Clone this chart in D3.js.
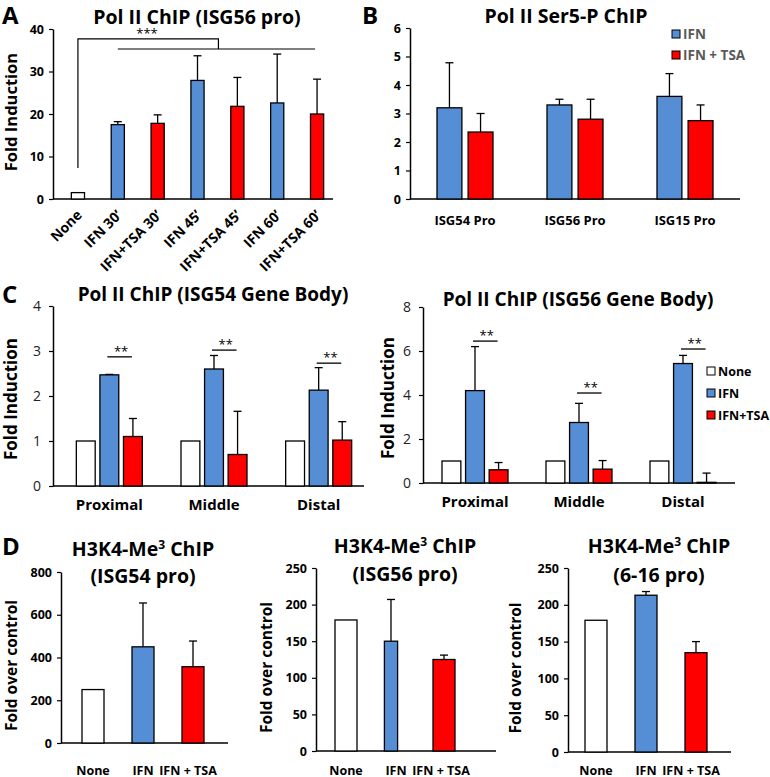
<!DOCTYPE html>
<html>
<head>
<meta charset="utf-8">
<script src="https://cdn.jsdelivr.net/npm/d3@7"></script>
<style>
  html, body { margin: 0; padding: 0; background: #fff; }
  svg { display: block; }
  text { font-family: "Open Sans", Lato, "DejaVu Sans", sans-serif; }
</style>
</head>
<body>
<svg id="chart" width="770" height="777"></svg>
<script>
// ---------------- DATA ----------------
// Panel A
const aCategories = ["None", "IFN 30’", "IFN+TSA 30’", "IFN 45’", "IFN+TSA 45’", "IFN 60’", "IFN+TSA 60’"];
const aValues = [1.5, 17.5, 17.8, 27.9, 21.8, 22.6, 20.0];
const aErrors = [0, 0.7, 2.0, 5.8, 6.8, 11.5, 8.2];
const aKind = ["None", "IFN", "TSA", "IFN", "TSA", "IFN", "TSA"];
const aTicks = [0, 10, 20, 30, 40];
const aBracket = { noneStart: 7.3, top: 37.7, lower: 35.3, label: "***" };

// Panel B
const bGroups = ["ISG54 Pro", "ISG56 Pro", "ISG15 Pro"];
const bSeries = ["IFN", "IFN + TSA"];
const bIFN = [3.2, 3.3, 3.6];
const bIFNErr = [1.58, 0.2, 0.8];
const bTSA = [2.35, 2.8, 2.75];
const bTSAErr = [0.65, 0.7, 0.55];
const bTicks = [0, 1, 2, 3, 4, 5, 6];

// Panel C
const cGroups = ["Proximal", "Middle", "Distal"];
const cSeries = ["None", "IFN", "IFN+TSA"];
const c54None = [1, 1, 1];
const c54IFN = [2.47, 2.6, 2.13];
const c54IFNErr = [0.01, 0.3, 0.5];
const c54TSA = [1.1, 0.7, 1.02];
const c54TSAErr = [0.4, 0.96, 0.41];
const c54Sig = [2.87, 3.02, 2.73];
const c54Ticks = [0, 1, 2, 3, 4];
const c56None = [1, 1, 1];
const c56IFN = [4.2, 2.75, 5.43];
const c56IFNErr = [2.0, 0.87, 0.37];
const c56TSA = [0.6, 0.63, 0.03];
const c56TSAErr = [0.33, 0.39, 0.42];
const c56Sig = [6.45, 4.09, 6.09];
const c56Ticks = [0, 2, 4, 6, 8];

// Panel D
const dCategories = ["None", "IFN", "IFN + TSA"];
const d54Values = [250, 450, 357];
const d54Errors = [0, 205, 120];
const d54Ticks = [0, 200, 400, 600, 800];
const d56Values = [179, 150, 125];
const d56Errors = [0, 57, 6];
const d56Ticks = [0, 50, 100, 150, 200, 250];
const d616Values = [179, 213, 135];
const d616Errors = [0, 5, 15];
const d616Ticks = [0, 50, 100, 150, 200, 250];

// ---------------- STYLE ----------------
const COLORS = { None: "#ffffff", IFN: "#558ED5", TSA: "#FF0000" };
const seriesColor = { "None": COLORS.None, "IFN": COLORS.IFN, "IFN+TSA": COLORS.TSA, "IFN + TSA": COLORS.TSA };

const svg = d3.select("#chart");

function yAxis(g, y, x0, ticks, opts) {
  const ax = d3.axisLeft(y).tickValues(ticks).tickFormat(d3.format("d"))
    .tickSize(4).tickSizeOuter(0).tickPadding(opts.pad || 5);
  const a = g.append("g").attr("transform", `translate(${x0},0)`).call(ax);
  a.select(".domain").attr("stroke", "#000").attr("stroke-width", 1.5);
  a.selectAll(".tick line").attr("stroke", "#000").attr("stroke-width", 1.2);
  a.selectAll(".tick text")
    .attr("fill", opts.color || "#000")
    .style("font-size", opts.size + "px")
    .style("font-weight", opts.weight || "bold")
    .style("font-family", "'Open Sans', sans-serif");
  return a;
}
function xLine(g, y, x0, x1) {
  g.append("line").attr("x1", x0).attr("x2", x1).attr("y1", y(0)).attr("y2", y(0))
    .attr("stroke", "#000").attr("stroke-width", 1.5);
}
function bar(g, y, cx, w, v, err, fill) {
  if (err > 0) {
    const top = y(v + err);
    g.append("line").attr("x1", cx).attr("x2", cx).attr("y1", y(v)).attr("y2", top)
      .attr("stroke", "#000").attr("stroke-width", 1.3);
    g.append("line").attr("x1", cx - 4).attr("x2", cx + 4).attr("y1", top).attr("y2", top)
      .attr("stroke", "#000").attr("stroke-width", 1.3);
  }
  g.append("rect").attr("x", cx - w / 2).attr("y", y(v)).attr("width", w)
    .attr("height", Math.max(0.5, y(0) - y(v)))
    .attr("fill", fill).attr("stroke", "#000").attr("stroke-width", 1.3);
}
function text(g, x, y, s, size, opts = {}) {
  const t = g.append("text").attr("x", x).attr("y", y)
    .attr("text-anchor", opts.anchor || "middle")
    .attr("fill", opts.color || "#000")
    .style("font-size", size + "px")
    .style("font-weight", opts.weight || "bold")
    .text(s);
  if (opts.rotate) t.attr("transform", `rotate(${opts.rotate},${x},${y})`);
  return t;
}
function supTitle(g, x, y, size) {
  const t = g.append("text").attr("x", x).attr("y", y).attr("text-anchor", "middle")
    .style("font-size", size + "px").style("font-weight", "bold");
  t.append("tspan").text("H3K4-Me");
  t.append("tspan").attr("dy", -7).style("font-size", (size * 0.62) + "px").text("3");
  t.append("tspan").attr("dy", 7).text(" ChIP");
}

// ---------------- PANEL A ----------------
(function () {
  const g = svg.append("g");
  const y = d3.scaleLinear().domain([0, 40]).range([199, 29]);
  const x = d3.scaleBand().domain(aCategories).range([58, 337]).paddingInner(0.67).paddingOuter(0.335);
  yAxis(g, y, 53, aTicks, { size: 12.5 });
  xLine(g, y, 53, 333);
  aCategories.forEach((c, i) => {
    const cx = x(c) + x.bandwidth() / 2;
    bar(g, y, cx, x.bandwidth(), aValues[i], aErrors[i], COLORS[aKind[i]]);
    text(g, cx + 5, 216, c, 14, { anchor: "end", rotate: -45 });
  });
  // significance bracket
  const c0 = x(aCategories[0]) + x.bandwidth() / 2;
  const c1 = x(aCategories[1]) + x.bandwidth() / 2;
  const c6 = x(aCategories[6]) + x.bandwidth() / 2;
  const mid = (c1 + c6) / 2 + 1;
  g.append("path")
    .attr("d", `M${c0},${y(aBracket.noneStart)}V${y(aBracket.top)}H${mid}V${y(aBracket.lower)}`)
    .attr("fill", "none").attr("stroke", "#000").attr("stroke-width", 1.2);
  g.append("line").attr("x1", c1).attr("x2", c6 - 2).attr("y1", y(aBracket.lower)).attr("y2", y(aBracket.lower))
    .attr("stroke", "#000").attr("stroke-width", 1.2);
  text(g, 147, y(aBracket.top) - 1, aBracket.label, 13, { weight: "normal" });
  text(g, 197, 24, "Pol II ChIP (ISG56 pro)", 19.5);
  text(g, 17, 112, "Fold Induction", 16.5, { rotate: -90 });
  text(g, 2, 24, "A", 24, { anchor: "start" });
})();

// ---------------- PANEL B ----------------
(function () {
  const g = svg.append("g");
  const y = d3.scaleLinear().domain([0, 6]).range([199, 28]);
  const x0 = d3.scaleBand().domain(bGroups).range([410, 740]);
  const x1 = d3.scaleBand().domain(bSeries).range([-28, 28]).paddingInner(0.2);
  yAxis(g, y, 410, bTicks, { size: 12.5 });
  xLine(g, y, 410, 740);
  const vals = [bIFN, bTSA], errs = [bIFNErr, bTSAErr];
  bGroups.forEach((grp, i) => {
    const gc = x0(grp) + x0.bandwidth() / 2;
    bSeries.forEach((s, j) => {
      const cx = gc + x1(s) + x1.bandwidth() / 2;
      bar(g, y, cx, x1.bandwidth(), vals[j][i], errs[j][i], seriesColor[s]);
    });
    text(g, gc, 225, grp, 13);
  });
  // legend
  bSeries.forEach((s, j) => {
    const ly = 30 + j * 21;
    g.append("rect").attr("x", 672).attr("y", ly).attr("width", 8).attr("height", 8)
      .attr("fill", seriesColor[s]).attr("stroke", "#000").attr("stroke-width", 1);
    text(g, 683, ly + 9, s, 13.5, { anchor: "start", color: "#595959" });
  });
  text(g, 566, 23, "Pol II Ser5-P ChIP", 19.5);
  text(g, 362, 24, "B", 24, { anchor: "start" });
})();

// ---------------- PANEL C ----------------
function panelC(cfg) {
  const g = svg.append("g");
  const y = d3.scaleLinear().domain([0, cfg.max]).range([cfg.y0, cfg.yTop]);
  const x0 = d3.scaleBand().domain(cGroups).range(cfg.xr);
  const x1 = d3.scaleBand().domain(cSeries).range([-33, 33]).paddingInner(0.2);
  yAxis(g, y, cfg.ax, cfg.ticks, { size: 14, weight: "normal", color: "#222", pad: 8 });
  xLine(g, y, cfg.ax, cfg.xEnd);
  const vals = [cfg.none, cfg.ifn, cfg.tsa], errs = [[0, 0, 0], cfg.ifnErr, cfg.tsaErr];
  cGroups.forEach((grp, i) => {
    const gc = x0(grp) + x0.bandwidth() / 2;
    const centers = cSeries.map(s => gc + x1(s) + x1.bandwidth() / 2);
    cSeries.forEach((s, j) => {
      bar(g, y, centers[j], x1.bandwidth(), vals[j][i], errs[j][i], seriesColor[s]);
    });
    const sy = y(cfg.sig[i]);
    g.append("line").attr("x1", centers[1] - 2).attr("x2", centers[2] - 1).attr("y1", sy).attr("y2", sy)
      .attr("stroke", "#000").attr("stroke-width", 1.3);
    text(g, (centers[1] + centers[2]) / 2, sy - 1, "**", 13, { weight: "normal" });
    text(g, gc, cfg.y0 + 24, grp, 15);
  });
  text(g, cfg.titleX, cfg.titleY, cfg.title, 19);
  text(g, cfg.ylx, (cfg.y0 + cfg.yTop) / 2 + 3, "Fold Induction", 17, { rotate: -90 });
  if (cfg.legend) {
    cSeries.forEach((s, j) => {
      const ly = 367 + j * 22;
      g.append("rect").attr("x", 707).attr("y", ly).attr("width", 8).attr("height", 8)
        .attr("fill", seriesColor[s]).attr("stroke", "#000").attr("stroke-width", 1);
      text(g, 718, ly + 9, s, 12.5, { anchor: "start" });
    });
  }
}
panelC({ max: 4, y0: 486, yTop: 306, xr: [57, 371], ax: 53, xEnd: 364, ticks: c54Ticks,
  none: c54None, ifn: c54IFN, ifnErr: c54IFNErr, tsa: c54TSA, tsaErr: c54TSAErr, sig: c54Sig,
  title: "Pol II ChIP (ISG54 Gene Body)", titleX: 213, titleY: 301, ylx: 17, legend: false });
panelC({ max: 8, y0: 483, yTop: 307, xr: [423, 735], ax: 423, xEnd: 735, ticks: c56Ticks,
  none: c56None, ifn: c56IFN, ifnErr: c56IFNErr, tsa: c56TSA, tsaErr: c56TSAErr, sig: c56Sig,
  title: "Pol II ChIP (ISG56 Gene Body)", titleX: 578, titleY: 306, ylx: 394, legend: true });
text(svg, 2, 303, "C", 24, { anchor: "start" });

// ---------------- PANEL D ----------------
function panelD(cfg) {
  const g = svg.append("g");
  const y = d3.scaleLinear().domain([0, cfg.max]).range([cfg.y0, cfg.yTop]);
  const x = d3.scaleBand().domain(dCategories).range(cfg.xr).paddingInner(0.56).paddingOuter(0.28);
  yAxis(g, y, cfg.ax, cfg.ticks, { size: 12.5 });
  xLine(g, y, cfg.ax, cfg.xEnd);
  const kinds = ["None", "IFN", "TSA"];
  const wScale = cfg.wScale || [1, 1, 1];
  const shift = cfg.shift || [0, 0, 0];
  dCategories.forEach((c, i) => {
    const cx = x(c) + x.bandwidth() / 2;
    bar(g, y, cx + shift[i], x.bandwidth() * wScale[i], cfg.values[i], cfg.errors[i], COLORS[kinds[i]]);
    text(g, cx + (i === 2 ? -5 : 0), 775, c, 12.5);
  });
  supTitle(g, cfg.tx, cfg.t1, 19.5);
  text(g, cfg.tx, cfg.t2, cfg.sub, 19.5);
  text(g, cfg.ylx, (cfg.y0 + cfg.yTop) / 2 + 8, "Fold over control", 15.5, { rotate: -90 });
}
panelD({ max: 800, y0: 743, yTop: 572, xr: [68, 218], ax: 61, xEnd: 228, ticks: d54Ticks,
  values: d54Values, errors: d54Errors, tx: 143, t1: 556, t2: 583, sub: "(ISG54 pro)", ylx: 17 });
panelD({ max: 250, y0: 751, yTop: 568, xr: [321, 471], ax: 316, xEnd: 496, ticks: d56Ticks,
  values: d56Values, errors: d56Errors, tx: 405, t1: 553, t2: 581, sub: "(ISG56 pro)", ylx: 272,
  wScale: [1, 0.6, 1], shift: [0, -5, -2] });
panelD({ max: 250, y0: 752, yTop: 568, xr: [571, 721], ax: 568, xEnd: 731, ticks: d616Ticks,
  values: d616Values, errors: d616Errors, tx: 659, t1: 553, t2: 582, sub: "(6-16 pro)", ylx: 521 });
text(svg, 2, 555, "D", 24, { anchor: "start" });
</script>
</body>
</html>
